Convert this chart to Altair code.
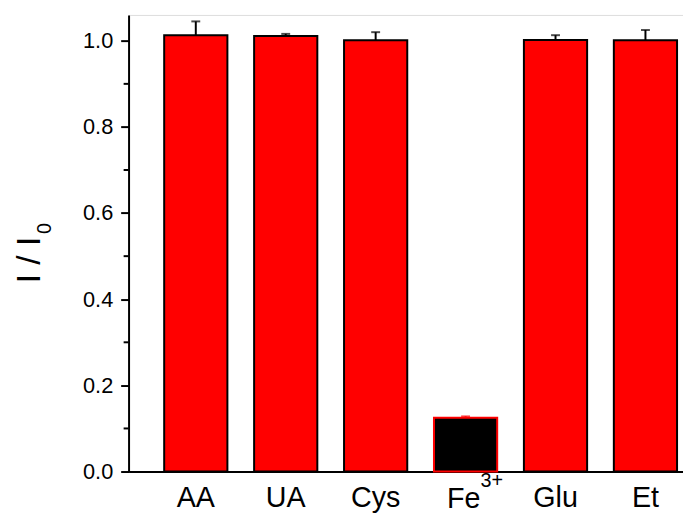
import altair as alt
import pandas as pd

categories = ["AA", "UA", "Cys", "Fe3+", "Glu", "Et"]
values = [1.013, 1.011, 1.001, 0.125, 1.002, 1.001]
errors = [0.032, 0.005, 0.019, 0.003, 0.011, 0.024]
y_ticks = [0.0, 0.2, 0.4, 0.6, 0.8, 1.0]
y_minor = [0.1, 0.3, 0.5, 0.7, 0.9]

FONT = "Liberation Sans"

df = pd.DataFrame({"cat": categories, "value": values, "err": errors})
df["upper"] = df["value"] + df["err"]
minor_df = pd.DataFrame({"v": y_minor})
fe_df = pd.DataFrame({"cat": ["Fe3+"], "base": ["Fe"], "sup": ["3+"]})

xscale = alt.Scale(domain=categories, paddingInner=0.297, paddingOuter=0.231, align=0.857)
yscale = alt.Scale(domain=[0, 1.06], nice=False, zero=True)

is_fe = alt.datum.cat == "Fe3+"

x_enc = alt.X("cat:N", sort=categories, scale=xscale,
              axis=alt.Axis(title=None, ticks=False, labelAngle=0, labelFontSize=29,
                            labelFont=FONT, labelColor="black", labelPadding=12,
                            domainColor="black", domainWidth=2,
                            labelExpr="datum.value == 'Fe3+' ? '' : datum.value"))

bars = alt.Chart(df).mark_bar(strokeWidth=2).encode(
    x=x_enc,
    y=alt.Y("value:Q", scale=yscale,
            axis=alt.Axis(title=None, values=y_ticks, format=".1f", grid=False,
                          labelFontSize=22, labelFont=FONT, labelColor="black",
                          labelPadding=8, tickSize=8, tickWidth=2, tickColor="black",
                          domainColor="black", domainWidth=2)),
    fill=alt.condition(is_fe, alt.value("#000000"), alt.value("#ff0000")),
    stroke=alt.condition(is_fe, alt.value("#ff0000"), alt.value("#000000")),
)

err_rule = alt.Chart(df).mark_rule(strokeWidth=2).encode(
    x=alt.X("cat:N", sort=categories, scale=xscale),
    y=alt.Y("value:Q", scale=yscale),
    y2="upper:Q",
    color=alt.condition(is_fe, alt.value("#ff0000"), alt.value("#000000")),
)

err_cap = alt.Chart(df).mark_tick(thickness=2, size=9).encode(
    x=alt.X("cat:N", sort=categories, scale=xscale),
    y=alt.Y("upper:Q", scale=yscale),
    color=alt.condition(is_fe, alt.value("#ff0000"), alt.value("#000000")),
)

minor = alt.Chart(minor_df).mark_rule(strokeWidth=2, color="black").encode(
    y=alt.Y("v:Q", scale=yscale),
    x=alt.value(-5),
    x2=alt.value(0),
)

fe_base = alt.Chart(fe_df).mark_text(font=FONT, fontSize=29, align="right",
                                     baseline="alphabetic", dx=15, color="black").encode(
    x=alt.X("cat:N", sort=categories, scale=xscale),
    y=alt.value(499),
    text="base:N",
)
fe_sup = alt.Chart(fe_df).mark_text(font=FONT, fontSize=20, align="left",
                                    baseline="alphabetic", dx=15, color="black").encode(
    x=alt.X("cat:N", sort=categories, scale=xscale),
    y=alt.value(478),
    text="sup:N",
)

ytitle = alt.Chart(fe_df).mark_text(font=FONT, fontSize=34, angle=270, align="center",
                                    baseline="alphabetic", color="black").encode(
    x=alt.value(-90), y=alt.value(248), text=alt.value("I / I"))
ysub = alt.Chart(fe_df).mark_text(font=FONT, fontSize=20, angle=270, align="center",
                                  baseline="alphabetic", color="black").encode(
    x=alt.value(-78), y=alt.value(216), text=alt.value("0"))

chart = alt.layer(bars, err_rule, err_cap, minor, fe_base, fe_sup, ytitle, ysub).properties(
    width=561, height=462,
    padding={"left": 122, "top": 4, "right": 0, "bottom": 44},
    autosize=alt.AutoSizeParams(type="none"),
).configure_view(stroke=None).configure(background="white")

chart.save("out.html", embed_options={"renderer": "svg", "actions": False})
